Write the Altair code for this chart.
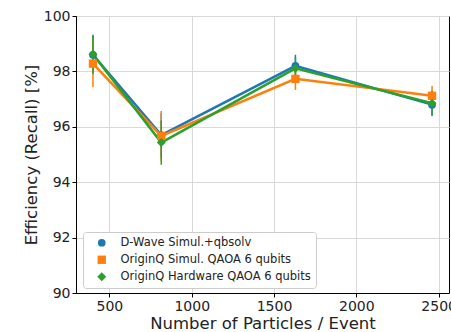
import altair as alt
import pandas as pd

series = ["D-Wave Simul.+qbsolv", "OriginQ Simul. QAOA 6 qubits", "OriginQ Hardware QAOA 6 qubits"]
particles = [400, 815, 1630, 2460]
dwave = [98.6, 95.7, 98.2, 96.8]
dwave_err = [0.7, 0.8, 0.4, 0.4]
simul = [98.28, 95.67, 97.73, 97.12]
simul_err = [0.85, 0.9, 0.4, 0.35]
hardw = [98.62, 95.43, 98.11, 96.85]
hardw_err = [0.7, 0.8, 0.4, 0.45]
colors = ["#1f77b4", "#ff7f0e", "#2ca02c"]
shapes = ["circle", "square", "diamond"]
marker_sizes = [60, 80, 115]

rows = []
for name, vals, errs in zip(series, [dwave, simul, hardw], [dwave_err, simul_err, hardw_err]):
    for x, v, e in zip(particles, vals, errs):
        rows.append({"series": name, "x": x, "y": v, "lo": v - e, "hi": v + e})
df = pd.DataFrame(rows)

FONT = "DejaVu Sans"
xscale = alt.Scale(domain=[297, 2563], nice=False, zero=False)
yscale = alt.Scale(domain=[90, 100], nice=False, zero=False)
cscale = alt.Scale(domain=series, range=colors)
sscale = alt.Scale(domain=series, range=shapes)
zscale = alt.Scale(domain=series, range=marker_sizes)

legend = alt.Legend(title=None, orient="none", legendX=7, legendY=216,
                    fillColor="white", strokeColor="#cccccc", cornerRadius=3,
                    padding=5, labelFontSize=11.5, labelFont=FONT, labelColor="#222",
                    labelLimit=400, symbolOffset=8,
                    symbolSize=70, rowPadding=4, labelOffset=13,
                    symbolStrokeWidth=0)

xaxis = alt.Axis(values=[500, 1000, 1500, 2000, 2500], title="Number of Particles / Event",
                 format="d", labelFontSize=14, titleFontSize=16.5, titleFontWeight="normal",
                 labelColor="#222", titleColor="#222", titlePadding=2,
                 tickColor="black", domainColor="black", gridColor="#d9d9d9", labelFont=FONT, titleFont=FONT)
yaxis = alt.Axis(values=[90, 92, 94, 96, 98, 100], title="Efficiency (Recall) [%]",
                 labelFontSize=14, titleFontSize=16.5, titleFontWeight="normal",
                 labelColor="#222", titleColor="#222", titlePadding=4,
                 tickColor="black", domainColor="black", gridColor="#d9d9d9", labelFont=FONT, titleFont=FONT)

base = alt.Chart(df)

lines = base.mark_line(strokeWidth=2.5).encode(
    x=alt.X("x:Q", scale=xscale, axis=xaxis),
    y=alt.Y("y:Q", scale=yscale, axis=yaxis),
    color=alt.Color("series:N", scale=cscale, legend=legend),
    detail="series:N",
)

bars = base.mark_rule(strokeWidth=1.5).encode(
    x=alt.X("x:Q", scale=xscale),
    y=alt.Y("lo:Q", scale=yscale),
    y2="hi:Q",
    color=alt.Color("series:N", scale=cscale, legend=legend),
)

points = base.mark_point(filled=True, opacity=1).encode(
    x=alt.X("x:Q", scale=xscale),
    y=alt.Y("y:Q", scale=yscale),
    color=alt.Color("series:N", scale=cscale, legend=legend),
    shape=alt.Shape("series:N", scale=sscale, legend=legend),
    size=alt.Size("series:N", scale=zscale, legend=None),
)

chart = alt.layer(lines, bars, points).properties(
    width=373, height=277,
    autosize=alt.AutoSizeParams(type="none"),
    padding={"left": 76, "top": 16, "right": 2, "bottom": 39},
).configure_view(stroke="black", strokeWidth=1).configure_axis(
    tickSize=4, grid=True
)

chart.save("out.html", embed_options={"renderer": "svg", "actions": False})
